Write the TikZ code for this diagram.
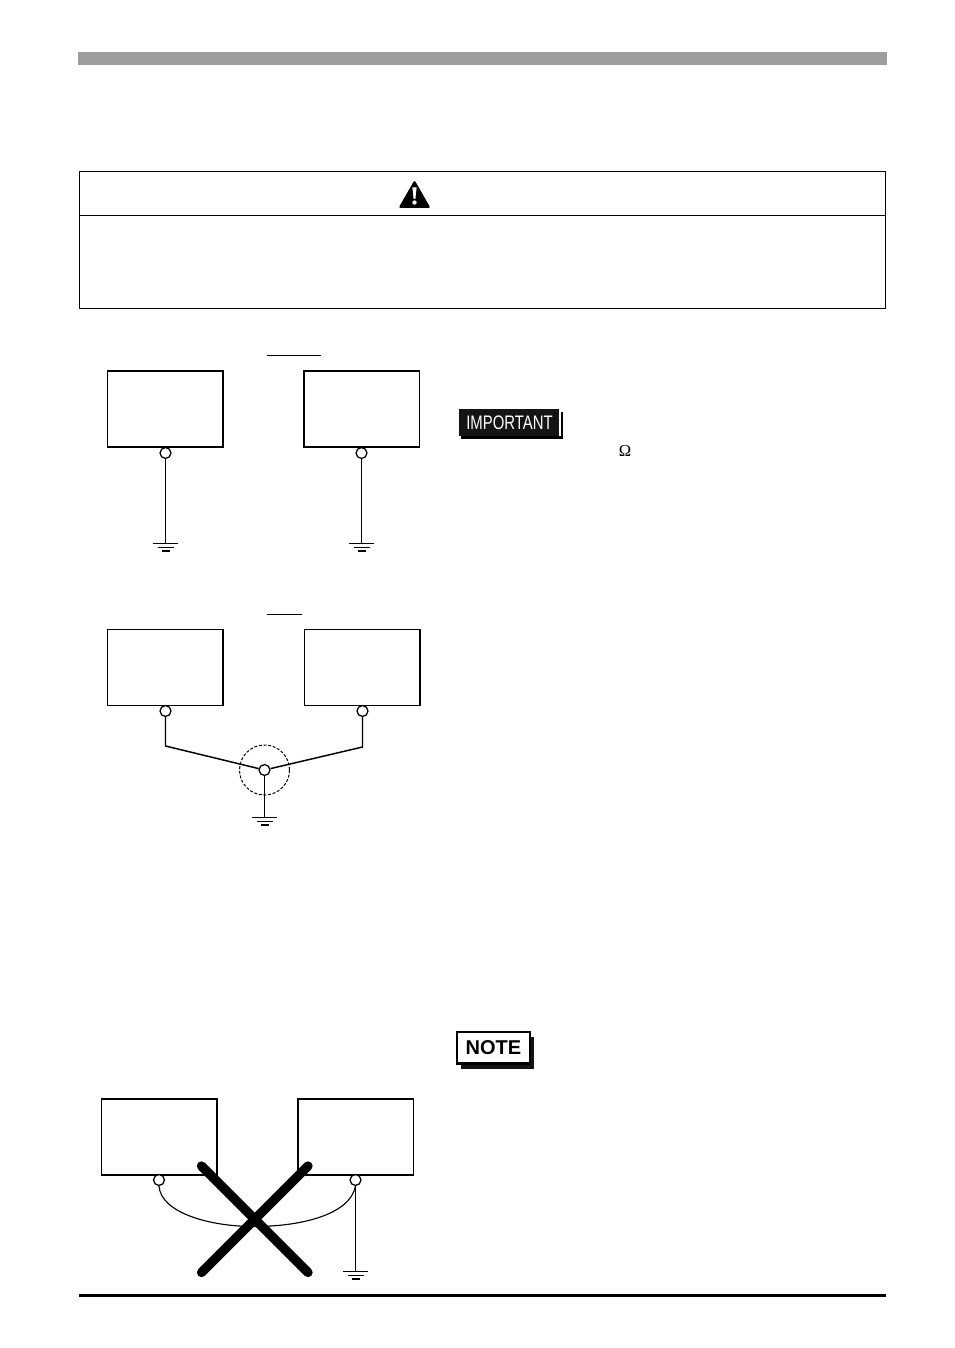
\documentclass[tikz,border=0pt]{standalone}
\usepackage{fontspec}
\setmainfont{Liberation Sans}
\newfontfamily\serifface{Liberation Serif}
\begin{document}
\begin{tikzpicture}[x=0.75pt,y=-0.75pt,
  unit/.style={draw,line width=0.9pt,minimum width=86.5pt,minimum height=57pt,inner sep=0pt,fill=white},
  term/.style={circle,draw,line width=0.95pt,fill=white,minimum size=8.2pt,inner sep=0pt},
  wire/.style={line width=1.1pt},
  gnd/.pic={
    \draw[line width=1pt] (-12.5,0)--(12.5,0);
    \draw[line width=1pt] (-8,3.7)--(8,3.7);
    \draw[line width=1pt] (-4,7.4)--(4,7.4);
  }]
\useasboundingbox (0,0) rectangle (954,1348);
\fill[white] (0,0) rectangle (954,1348);
% header and footer rules
\fill[black!38] (78,52) rectangle (887,65);
\fill[black] (79,1294) rectangle (886,1297);
% warning frame
\draw[line width=0.8pt] (79.5,171.5) rectangle (885.5,308.5);
\draw[line width=0.8pt] (79.5,215.5) -- (885.5,215.5);
\fill[black,rounded corners=1.6pt] (414.5,180) -- (430.5,208) -- (398.5,208) -- cycle;
\fill[white] (412.4,187.5) -- (416.6,187.5) -- (415.4,199) -- (413.6,199) -- cycle;
\fill[white] (414.5,202.5) circle (2.2);
% underlines
\draw[line width=0.85pt] (267,355.5) -- (321,355.5);
\draw[line width=0.85pt] (267,614.5) -- (302,614.5);
% top pair
\node[unit] (a1) at (165.25,409) {};
\node[unit] (a2) at (361.75,409) {};
\coordinate (ga1) at (165.5,543.5);
\coordinate (ga2) at (361.5,543.5);
\draw[wire] (165.5,453) -- (ga1);
\draw[wire] (361.5,453) -- (ga2);
\node[term] (ta1) at (165.5,453) {};
\node[term] (ta2) at (361.5,453) {};
\pic at (ga1) {gnd};
\pic at (ga2) {gnd};
% middle pair
\node[unit] (b1) at (165.25,667.5) {};
\node[unit] (b2) at (362.25,667.5) {};
\node[term] (tb1) at (165.5,711) {};
\node[term] (tb2) at (362.5,711) {};
\node[term] (j) at (264.5,770) {};
\coordinate (kb1) at (165.5,746);
\coordinate (kb2) at (362.5,747);
\coordinate (gb) at (264.5,817.5);
\draw[line width=0.75pt,dash pattern=on 2.2pt off 1.3pt] (j.center) circle (25);
\draw[wire] (tb1) -- (kb1) -- (j);
\draw[wire] (tb2) -- (kb2) -- (j);
\draw[wire] (j) -- (gb);
\pic at (gb) {gnd};
% bottom pair
\node[unit] (c1) at (159.25,1137) {};
\node[unit] (c2) at (355.75,1137) {};
\node[term] (tc1) at (159,1180) {};
\node[term] (tc2) at (355.5,1180) {};
\coordinate (gc) at (355.5,1271.5);
\coordinate (m) at (254,1226.5);
\draw[line width=0.85pt] (tc1.south) .. controls (161,1213) and (210,1226.5) .. (m)
   .. controls (300,1226.5) and (350,1215) .. (tc2.south);
\draw[wire] (tc2) -- (gc);
\pic at (gc) {gnd};
\coordinate (x1) at (201.5,1166);
\coordinate (x2) at (308,1272.5);
\coordinate (x3) at (308,1166);
\coordinate (x4) at (201.5,1272.5);
\draw[line width=7pt,line cap=round] (x1) -- (x2);
\draw[line width=7pt,line cap=round] (x3) -- (x4);
% IMPORTANT badge
\draw[line width=1.6pt] (461,437.5) -- (562,437.5) -- (562,412);
\fill[black!92] (459,409) rectangle (559,435.5);
\node[text=white,inner sep=0pt,font=\fontsize{14.7pt}{15pt}\selectfont,xscale=0.76,transform shape] (imp) at (509.5,422.5) {IMPORTANT};
% NOTE badge
\fill[black!92] (461,1037) rectangle (534,1069);
\draw[line width=1.9pt,fill=white] (457,1032) rectangle (530,1063.5);
\node[inner sep=0pt,font=\fontsize{15pt}{16pt}\selectfont\bfseries] (note) at (493.5,1047.5) {NOTE};
% omega
\node[inner sep=0pt,font=\serifface\fontsize{12.5pt}{13pt}\selectfont] (ohm) at (625,451) {Ω};
\end{tikzpicture}
\end{document}
